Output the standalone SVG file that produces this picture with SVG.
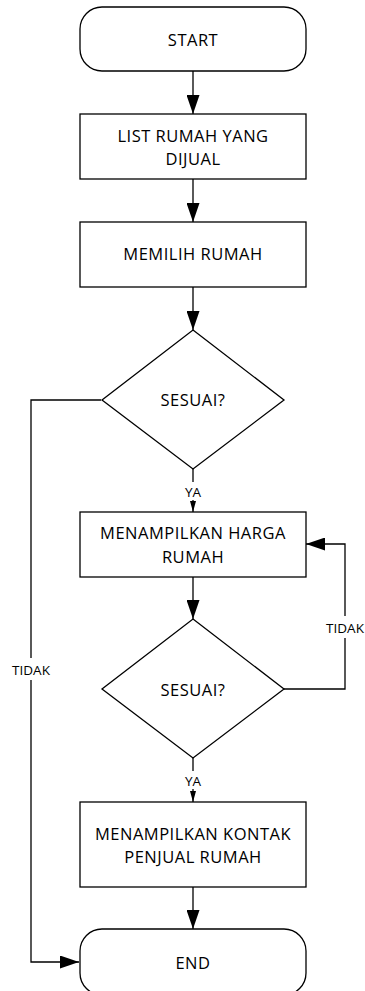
<svg xmlns="http://www.w3.org/2000/svg" width="365" height="991" viewBox="0 0 365 991">
<style>
.shape{fill:#fff;stroke:#000;stroke-width:1.3}
.t{font-family:"Open Sans","Liberation Sans",sans-serif;font-size:16.5px;letter-spacing:0.5px;fill:#000;text-anchor:middle}
.lb{font-family:"Open Sans","Liberation Sans",sans-serif;font-size:13.5px;fill:#000;text-anchor:middle}
.c{fill:none;stroke:#000;stroke-width:1.3}
</style>
<defs>
<marker id="big" markerUnits="userSpaceOnUse" markerWidth="19" markerHeight="13" refX="19" refY="6.5" orient="auto"><path d="M0,0 L19,6.5 L0,13 z" fill="#000"/></marker>
<marker id="small" markerUnits="userSpaceOnUse" markerWidth="11" markerHeight="6" refX="11" refY="3" orient="auto"><path d="M0,0 L11,3 L0,6 z" fill="#000"/></marker>
</defs>
<rect width="365" height="991" fill="#fff"/>
<g id="connectors">
<path class="c" d="M193,71 L193,114" marker-end="url(#big)"/>
<path class="c" d="M193,179 L193,222" marker-end="url(#big)"/>
<path class="c" d="M193,287 L193,330" marker-end="url(#big)"/>
<path class="c" d="M193,469 L193,512" marker-end="url(#small)"/>
<path class="c" d="M101,400 L31,400 L31,962 L79,962" marker-end="url(#big)"/>
<path class="c" d="M193,577 L193,619" marker-end="url(#big)"/>
<path class="c" d="M284,689 L345,689 L345,544 L306,544" marker-end="url(#big)"/>
<path class="c" d="M193,758 L193,802" marker-end="url(#small)"/>
<path class="c" d="M193,887 L193,929" marker-end="url(#big)"/>
<rect x="180" y="482" width="26" height="18" fill="#fff"/>
<text class="lb" x="193" y="497">YA</text>
<rect x="180" y="771" width="26" height="18" fill="#fff"/>
<text class="lb" x="193" y="786">YA</text>
<rect x="10" y="658" width="42" height="22" fill="#fff"/>
<text class="lb" x="31" y="675">TIDAK</text>
<rect x="324" y="616" width="41" height="22" fill="#fff"/>
<text class="lb" x="345" y="633">TIDAK</text>
</g>
<g id="start">
<rect class="shape" x="80" y="7" width="226" height="64" rx="22" ry="22"/>
<text class="t" x="193" y="46">START</text>
</g>
<g id="list">
<rect class="shape" x="80" y="114" width="226" height="65"/>
<text class="t" x="193" y="142">LIST RUMAH YANG</text>
<text class="t" x="193" y="165">DIJUAL</text>
</g>
<g id="memilih">
<rect class="shape" x="80" y="222" width="226" height="65"/>
<text class="t" x="193" y="260">MEMILIH RUMAH</text>
</g>
<g id="sesuai1">
<polygon class="shape" points="193,330 284,400 193,469 102,400"/>
<text class="t" x="193" y="406">SESUAI?</text>
</g>
<g id="harga">
<rect class="shape" x="80" y="512" width="226" height="65"/>
<text class="t" x="193" y="539">MENAMPILKAN HARGA</text>
<text class="t" x="193" y="563">RUMAH</text>
</g>
<g id="sesuai2">
<polygon class="shape" points="193,619 284,689 193,758 102,689"/>
<text class="t" x="193" y="696">SESUAI?</text>
</g>
<g id="kontak">
<rect class="shape" x="80" y="802" width="226" height="85"/>
<text class="t" x="193" y="840">MENAMPILKAN KONTAK</text>
<text class="t" x="193" y="863">PENJUAL RUMAH</text>
</g>
<g id="end">
<rect class="shape" x="80" y="929" width="226" height="66" rx="22" ry="22"/>
<text class="t" x="193" y="969">END</text>
</g>
</svg>
